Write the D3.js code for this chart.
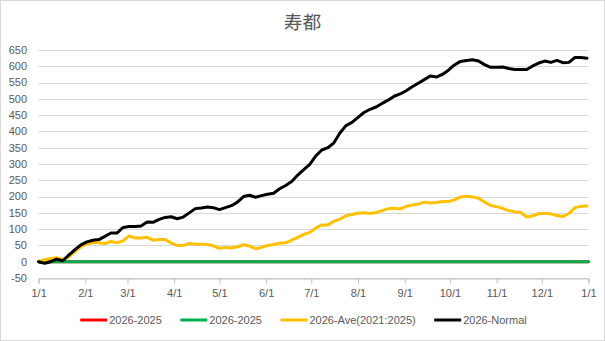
<!DOCTYPE html>
<html><head><meta charset="utf-8">
<script src="https://cdn.jsdelivr.net/npm/d3@7"></script>
<style>html,body{margin:0;padding:0;background:#fff;}svg{display:block;}</style>
</head><body>
<script>
// ---- data ----
const title = "寿都";
const startDate = "2026-01-01";
const endDate = "2027-01-01";
const yTicks = [-50, 0, 50, 100, 150, 200, 250, 300, 350, 400, 450, 500, 550, 600, 650];
const seriesNames = ["2026-2025", "2026-2025", "2026-Ave(2021:2025)", "2026-Normal"];
const seriesColors = ["#FF0000", "#00B050", "#FFC000", "#000000"];
// day offsets from Jan 1
const days = [0,4,8,12,16,20,24,28,32,36,40,44,48,52,56,60,64,68,72,76,80,84,88,92,96,100,104,108,112,116,120,124,128,132,136,140,144,148,152,156,160,164,168,172,176,180,184,188,192,196,200,204,208,212,216,220,224,228,232,236,240,244,248,252,256,260,264,268,272,276,280,284,288,292,296,300,304,308,312,316,320,324,328,332,336,340,344,348,352,356,360,364];
const flatDays = [0, 365];
const diff2025Red = [0, 0];
const diff2025Green = [0, 0];
const diffAve = [0,6,10,12,7,14,31,46,55,58,58,56,62,58,64,79,73,73,75,66,68,68,57,50,50,56,54,54,53,49,41,44,42,46,52,48,40,44,50,53,57,58,66,75,84,90,104,113,113,124,131,141,145,149,150,148,151,157,163,164,162,170,174,177,183,180,182,185,185,190,199,201,199,195,183,173,169,164,157,153,151,137,141,148,148,147,142,139,148,166,170,171];
const diffNormal = [0,-5,0,8,3,20,36,52,61,66,68,78,88,88,105,108,108,110,122,121,130,136,138,132,137,150,163,165,168,166,160,166,172,183,200,204,198,203,207,210,224,234,246,266,283,299,325,343,350,365,395,418,428,443,458,468,475,486,496,508,515,525,537,548,559,570,567,575,588,604,615,618,620,616,605,597,597,598,593,590,590,590,601,610,616,612,618,611,612,627,627,625];

// ---- layout ----
const W = 605, H = 341;
const plotLeft = 38.6, plotRight = 588.5, plotTop = 50, plotBottom = 278;
const font = "'Liberation Sans', Arial, sans-serif";
const textColor = "#595959";

const svg = d3.select("body").append("svg").attr("width", W).attr("height", H);
svg.append("rect").attr("x", 0.5).attr("y", 0.5).attr("width", W - 1).attr("height", H - 1)
  .attr("fill", "#fff").attr("stroke", "#d9d9d9");

const t0 = new Date(startDate + "T00:00:00Z"), t1 = new Date(endDate + "T00:00:00Z");
const x = d3.scaleUtc().domain([t0, t1]).range([plotLeft, plotRight]);
const y = d3.scaleLinear().domain([-50, 650]).range([plotBottom, plotTop]);
const dayToDate = d => new Date(t0.getTime() + d * 86400000);

// gridlines
svg.append("g").selectAll("line").data(yTicks).join("line")
  .attr("x1", plotLeft).attr("x2", plotRight)
  .attr("y1", d => Math.round(y(d)) + 0.5).attr("y2", d => Math.round(y(d)) + 0.5)
  .attr("stroke", "#d9d9d9").attr("stroke-width", 1);

// y labels
svg.append("g").selectAll("text").data(yTicks).join("text")
  .attr("x", 27).attr("y", d => y(d)).attr("dy", "0.35em")
  .attr("text-anchor", "end").attr("font-family", font).attr("font-size", 11)
  .attr("fill", textColor).text(d => d);

// x axis
const monthTicks = d3.utcMonth.range(t0, d3.utcDay.offset(t1, 1));
const xAxis = d3.axisBottom(x).tickValues(monthTicks).tickSize(5).tickPadding(6)
  .tickFormat(d3.utcFormat("%-m/%-d"));
const gx = svg.append("g").attr("transform", `translate(0,${Math.round(plotBottom) + 0.5})`).call(xAxis);
gx.select(".domain").attr("stroke", "#bfbfbf");
gx.selectAll(".tick line").attr("stroke", "#bfbfbf");
gx.selectAll("text").attr("font-family", font).attr("font-size", 11).attr("fill", textColor);

// series
const line = d3.line().x(p => x(dayToDate(p[0]))).y(p => y(p[1])).curve(d3.curveLinear);
const series = [
  { days: flatDays, vals: diff2025Red },
  { days: flatDays, vals: diff2025Green },
  { days: days, vals: diffAve },
  { days: days, vals: diffNormal }
];
series.forEach((s, i) => {
  const pts = s.days.map((d, j) => [d, s.vals[j]]);
  svg.append("path").datum(pts).attr("d", line).attr("fill", "none")
    .attr("stroke", seriesColors[i]).attr("stroke-width", 3)
    .attr("stroke-linejoin", "round").attr("stroke-linecap", "round");
});

// title
svg.append("text").attr("x", W / 2).attr("y", 29).attr("text-anchor", "middle")
  .attr("font-family", "'Noto Sans CJK JP', sans-serif").attr("font-size", 18.7)
  .attr("fill", textColor).text(title);

// legend
const lg = svg.append("g");
let cx = 0;
const legendY = 320;
seriesNames.forEach((name, i) => {
  const g = lg.append("g").attr("transform", `translate(${cx},0)`);
  g.append("line").attr("x1", 0).attr("x2", 27).attr("y1", legendY).attr("y2", legendY)
    .attr("stroke", seriesColors[i]).attr("stroke-width", 3);
  const t = g.append("text").attr("x", 29).attr("y", legendY).attr("dy", "0.35em")
    .attr("font-family", font).attr("font-size", 11).attr("fill", textColor).text(name);
  cx += 29 + t.node().getComputedTextLength() + 18.5;
});
const totalW = cx - 18.5;
lg.attr("transform", `translate(${(W - totalW) / 2 + 1},0)`);
</script>
</body></html>
